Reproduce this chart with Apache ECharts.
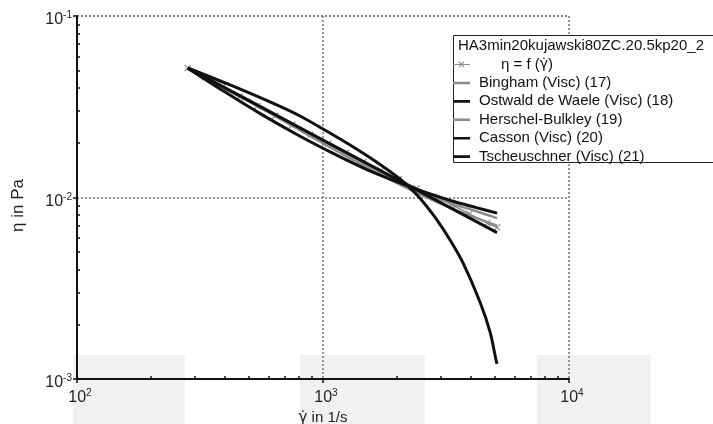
<!DOCTYPE html>
<html><head><meta charset="utf-8">
<script src="https://cdn.jsdelivr.net/npm/echarts@6/dist/echarts.min.js"></script>
<style>html,body{margin:0;padding:0;background:#fff}#c{width:713px;height:424px}</style>
</head><body><div id="c"></div>
<script>
// ---- tick values / labels ----
const xMajorTicks = [100, 1000, 10000];
const xTickExp = ['2', '3', '4'];
const xMinorTicks = [200, 300, 400, 500, 600, 700, 800, 900, 2000, 3000, 4000, 5000, 6000, 7000, 8000, 9000];
const yMajorTicks = [0.001, 0.01, 0.1];
const yTickExp = ['-3', '-2', '-1'];
const yMinorTicks = [0.002, 0.003, 0.004, 0.005, 0.006, 0.007, 0.008, 0.009, 0.02, 0.03, 0.04, 0.05, 0.06, 0.07, 0.08, 0.09];

// ---- series names ----
const legendTitle = 'HA3min20kujawski80ZC.20.5kp20_2';
const nameData = 'η = f (γ̇)';
const nameBingham = 'Bingham (Visc) (17)';
const nameOstwald = 'Ostwald de Waele (Visc) (18)';
const nameHB = 'Herschel-Bulkley (19)';
const nameCasson = 'Casson (Visc) (20)';
const nameTsch = 'Tscheuschner (Visc) (21)';

// ---- measured data ----
const shearData = [282, 330, 390, 460, 540, 640, 750, 890, 1050, 1240, 1460, 1720, 2030, 2400, 2830, 3340, 3940, 4650, 5100];
const etaData = [0.0516, 0.0459, 0.0406, 0.0359, 0.0319, 0.0282, 0.0251, 0.0222, 0.0198, 0.0176, 0.0157, 0.0141, 0.0126, 0.01127, 0.01012, 0.00912, 0.00813, 0.00724, 0.00684];

// ---- model fits ----
const shearFit = [282, 400, 560, 800, 1100, 1500, 2000, 2600, 3400, 4200, 5100];
const etaBingham = [0.0516, 0.0405, 0.0318, 0.0243, 0.0191, 0.0152, 0.0125, 0.0106, 0.0092, 0.0084, 0.0077];
const etaCasson = [0.0516, 0.0381, 0.0288, 0.0219, 0.0175, 0.0143, 0.0122, 0.0107, 0.0095, 0.0088, 0.0082];
const etaHB = [0.0516, 0.0398, 0.0311, 0.0236, 0.0185, 0.0147, 0.0120, 0.0101, 0.0086, 0.0077, 0.0070];
const shearOstwald = [282, 1000, 5100];
const etaOstwald = [0.0516, 0.0207, 0.0064];
const shearTsch = [282, 419, 609, 806, 1000, 1288, 1627, 2056, 2411, 2827, 3283, 3708, 4347, 4775, 5051, 5098];
const etaTsch = [0.0517, 0.04168, 0.03359, 0.02812, 0.02384, 0.01947, 0.01589, 0.01264, 0.01032, 0.00791, 0.00583, 0.00436, 0.002655, 0.001816, 0.001273, 0.00121];

const zip = (xs, ys) => xs.map((x, i) => [x, ys[i]]);

const FONT = 'Liberation Sans, Arial, sans-serif';
const GFONT = 'DejaVu Sans';
const BLACK = '#111';
const GREY = '#8c8c8c';
const richLbl = {
  p: { width: 6 },
  b: { fontSize: 16, fontFamily: FONT, color: '#222' },
  s: { fontSize: 10, fontFamily: FONT, color: '#222', padding: [0, 0, 9, 0] }
};

const fitIcon = 'path://M0,0h0.02v0.02h-0.02z M0,5.8h17v2.6h-17z M16.98,13.98h0.02v0.02h-0.02z';
const dataIcon = 'path://M0,0h0.02v0.02h-0.02z M0,6.6h17v1h-17z M5.5,4.5L6.3,3.8L11.5,9.3L10.7,10Z M10.7,3.8L11.5,4.5L6.3,10L5.5,9.3Z M16.98,13.98h0.02v0.02h-0.02z';
const xSym = 'path://M0,0L10,10M10,0L0,10';

const chart = echarts.init(document.getElementById('c'), null, { renderer: 'canvas' });

function lineSeries(name, data, color, width, smooth) {
  return {
    name, type: 'line', data, xAxisIndex: 0, yAxisIndex: 0,
    symbol: 'none', smooth: smooth, z: 2,
    lineStyle: { color, width }, itemStyle: { color },
    emphasis: { disabled: true }
  };
}

const option = {
  animation: false,
  backgroundColor: '#fff',
  grid: { left: 77, right: 144, top: 16, bottom: 45, containLabel: false, outerBoundsMode: 'none' },
  xAxis: [
    {
      type: 'log', logBase: 10, min: 100, max: 10000,
      name: '{g|γ̇}{t| in 1/s}', nameLocation: 'middle', nameGap: 29,
      nameTextStyle: {
        fontSize: 15, fontFamily: FONT, color: '#222', verticalAlign: 'top',
        rich: { g: { fontSize: 15, fontFamily: GFONT, color: '#222' }, t: { fontSize: 15, fontFamily: FONT, color: '#222' } }
      },
      axisLine: { show: true, onZero: false, lineStyle: { color: BLACK, width: 2 } },
      axisTick: { show: true, inside: false, length: 4, lineStyle: { color: BLACK, width: 1.5 } },
      axisLabel: {
        margin: 9, interval: 0,
        formatter: v => { const i = xMajorTicks.findIndex(t => Math.abs(t - v) / t < 1e-6); return i < 0 ? '' : '{p|}{b|10}{s|' + xTickExp[i] + '}'; },
        rich: richLbl
      },
      splitLine: { show: true, lineStyle: { color: '#777', width: 1.5, type: [2, 2] } }
    },
    {
      type: 'log', logBase: 10, min: 100, max: 10000, position: 'bottom', offset: 0,
      axisLine: { show: false }, axisLabel: { show: false }, splitLine: { show: false },
      axisTick: { show: true, inside: true, length: 3, customValues: xMinorTicks, lineStyle: { color: BLACK, width: 1.5 } }
    }
  ],
  yAxis: [
    {
      type: 'log', logBase: 10, min: 0.001, max: 0.1,
      name: 'η in Pa', nameLocation: 'middle', nameGap: 50, nameRotate: 90,
      nameTextStyle: { fontSize: 17, fontFamily: FONT, color: '#222', padding: [0, 16, 0, 0] },
      axisLine: { show: true, onZero: false, lineStyle: { color: BLACK, width: 2 } },
      axisTick: { show: true, inside: false, length: 4, lineStyle: { color: BLACK, width: 1.5 } },
      axisLabel: {
        margin: 5, interval: 0, padding: [8, 0, 0, 0],
        formatter: v => { const i = yMajorTicks.findIndex(t => Math.abs(t - v) / t < 1e-6); return i < 0 ? '' : '{b|10}{s|' + yTickExp[i] + '}'; },
        rich: richLbl
      },
      splitLine: { show: true, lineStyle: { color: '#777', width: 1.5, type: [2, 2] } }
    },
    {
      type: 'log', logBase: 10, min: 0.001, max: 0.1, position: 'left', offset: 0,
      axisLine: { show: false }, axisLabel: { show: false }, splitLine: { show: false },
      axisTick: { show: true, inside: true, length: 3, customValues: yMinorTicks, lineStyle: { color: BLACK, width: 1.5 } }
    }
  ],
  legend: {
    orient: 'vertical', left: 453, top: 57, z: 10,
    itemWidth: 17, itemHeight: 14, itemGap: 3.4,
    padding: 0,
    itemStyle: { borderWidth: 0 },
    data: [
      { name: nameData, icon: dataIcon, itemStyle: { color: GREY, borderWidth: 0 } },
      { name: nameBingham, icon: fitIcon },
      { name: nameOstwald, icon: fitIcon },
      { name: nameHB, icon: fitIcon },
      { name: nameCasson, icon: fitIcon },
      { name: nameTsch, icon: fitIcon }
    ],
    formatter: n => n === nameData ? '{i|}{t|η = f (}{g|γ̇}{t|)}' : n,
    textStyle: {
      fontSize: 15, fontFamily: FONT, color: '#111', lineHeight: 15, padding: [0, 0, 0, 4],
      rich: {
        i: { width: 22 },
        t: { fontSize: 15, fontFamily: FONT, color: '#111' },
        g: { fontSize: 14, fontFamily: GFONT, color: '#111' }
      }
    },
    selectedMode: false
  },
  graphic: [
    { type: 'rect', z: -1, silent: true, shape: { x: 73, y: 355, width: 112, height: 70 }, style: { fill: '#f1f1f1' } },
    { type: 'rect', z: -1, silent: true, shape: { x: 300, y: 355, width: 125, height: 70 }, style: { fill: '#f1f1f1' } },
    { type: 'rect', z: -1, silent: true, shape: { x: 537, y: 355, width: 114, height: 70 }, style: { fill: '#f1f1f1' } },
    { type: 'rect', z: 5, silent: true, shape: { x: 453.5, y: 35.5, width: 270, height: 127 }, style: { fill: '#fff', stroke: '#222', lineWidth: 1 } },
    { type: 'text', z: 10, silent: true, left: 458, top: 38, style: { text: legendTitle, font: '15px ' + FONT, fill: '#111' } }
  ],
  series: [
    {
      name: nameData, type: 'line', data: zip(shearData, etaData), xAxisIndex: 0, yAxisIndex: 0,
      symbol: xSym, symbolSize: 6, showSymbol: true, smooth: false, z: 1,
      lineStyle: { color: GREY, width: 1.5 },
      itemStyle: { color: 'none', borderColor: GREY, borderWidth: 1.2 },
      emphasis: { disabled: true }
    },
    lineSeries(nameBingham, zip(shearFit, etaBingham), GREY, 2.5, 0.3),
    lineSeries(nameHB, zip(shearFit, etaHB), GREY, 2.5, 0.3),
    lineSeries(nameOstwald, zip(shearOstwald, etaOstwald), BLACK, 3, false),
    lineSeries(nameCasson, zip(shearFit, etaCasson), BLACK, 3, 0.3),
    lineSeries(nameTsch, zip(shearTsch, etaTsch), BLACK, 3, 0.3)
  ]
};
chart.setOption(option);
</script>
</body></html>
